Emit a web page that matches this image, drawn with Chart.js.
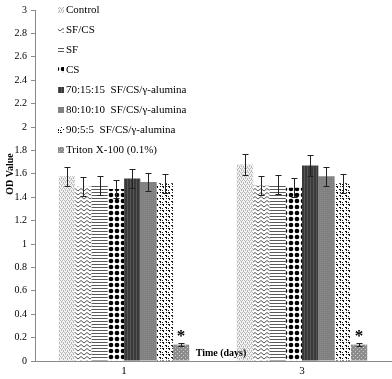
<!DOCTYPE html>
<html>
<head>
<meta charset="utf-8">
<script src="https://cdn.jsdelivr.net/npm/chart.js@4.4.1/dist/chart.umd.min.js"></script>
<style>
  html, body { margin: 0; padding: 0; background: #fff; }
  #wrap { width: 392px; height: 379px; }
</style>
</head>
<body>
<div id="wrap"><canvas id="c" width="392" height="379"></canvas></div>
<script>
// Data
const days = ['1', '3'];
const seriesLabels = [
  'Control',
  'SF/CS',
  'SF',
  'CS',
  '70:15:15  SF/CS/\u03b3-alumina',
  '80:10:10  SF/CS/\u03b3-alumina',
  '90:5:5  SF/CS/\u03b3-alumina',
  'Triton X-100 (0.1%)'
];
const control = [1.58, 1.68];
const sfcs = [1.49, 1.50];
const sf = [1.50, 1.51];
const cs = [1.47, 1.48];
const mix701515 = [1.56, 1.67];
const mix801010 = [1.53, 1.58];
const mix9055 = [1.52, 1.52];
const triton = [0.14, 0.14];

const controlErr = [0.08, 0.09];
const sfcsErr = [0.08, 0.08];
const sfErr = [0.08, 0.08];
const csErr = [0.08, 0.08];
const mix701515Err = [0.08, 0.09];
const mix801010Err = [0.08, 0.08];
const mix9055Err = [0.08, 0.08];
const tritonErr = [0.01, 0.01];

const yTicksMax = 3;
const yTickStep = 0.2;

const FONT = "'Liberation Serif', 'Times New Roman', serif";

// Small tiles used as fill patterns for the bars
function makePattern(w, h, draw) {
  const c = document.createElement('canvas');
  c.width = w; c.height = h;
  const g = c.getContext('2d');
  draw(g, w, h);
  return c.getContext('2d').createPattern(c, 'repeat');
}

const patterns = [
  // Control: fine light-grey checker
  makePattern(4, 4, (g) => {
    g.fillStyle = '#f2f2f2'; g.fillRect(0, 0, 4, 4);
    g.fillStyle = '#b8b8b8';
    g.fillRect(0, 0, 1, 1); g.fillRect(2, 0, 1, 1);
    g.fillRect(1, 2, 1, 1); g.fillRect(3, 2, 1, 1);
    g.fillRect(1, 1, 1, 1); g.fillRect(3, 3, 1, 1);
  }),
  // SF/CS: zigzag
  makePattern(6, 4, (g) => {
    g.fillStyle = '#ffffff'; g.fillRect(0, 0, 6, 4);
    g.strokeStyle = '#555'; g.lineWidth = 1;
    g.beginPath(); g.moveTo(0, 3); g.lineTo(3, 0.5); g.lineTo(6, 3); g.stroke();
  }),
  // SF: horizontal lines
  makePattern(4, 3, (g) => {
    g.fillStyle = '#ffffff'; g.fillRect(0, 0, 4, 3);
    g.fillStyle = '#5a5a5a'; g.fillRect(0, 0, 4, 1);
  }),
  // CS: black dots
  makePattern(6, 6, (g) => {
    g.fillStyle = '#ffffff'; g.fillRect(0, 0, 6, 6);
    g.fillStyle = '#000';
    g.beginPath(); g.arc(3, 3, 2.3, 0, Math.PI * 2); g.fill();
  }),
  // 70:15:15: dark grey with vertical stripes
  makePattern(3, 2, (g) => {
    g.fillStyle = '#3a3a3a'; g.fillRect(0, 0, 3, 2);
    g.fillStyle = '#555'; g.fillRect(1, 0, 1, 2);
  }),
  // 80:10:10: mid grey
  makePattern(2, 2, (g) => {
    g.fillStyle = '#808080'; g.fillRect(0, 0, 2, 2);
    g.fillStyle = '#8a8a8a'; g.fillRect(0, 0, 1, 1);
  }),
  // 90:5:5: black and white speckle
  makePattern(6, 6, (g) => {
    g.fillStyle = '#ffffff'; g.fillRect(0, 0, 6, 6);
    g.fillStyle = '#111';
    g.fillRect(0, 0, 2, 1); g.fillRect(1, 1, 1, 1);
    g.fillRect(3, 3, 2, 1); g.fillRect(4, 4, 1, 1);
    g.fillRect(4, 0, 1, 1); g.fillRect(0, 4, 1, 1);
  }),
  // Triton: grey with light dots
  makePattern(4, 4, (g) => {
    g.fillStyle = '#8c8c8c'; g.fillRect(0, 0, 4, 4);
    g.fillStyle = '#c8c8c8';
    g.fillRect(1, 1, 1, 1); g.fillRect(3, 3, 1, 1);
  })
];

const values = [control, sfcs, sf, cs, mix701515, mix801010, mix9055, triton];
const errors = [controlErr, sfcsErr, sfErr, csErr, mix701515Err, mix801010Err, mix9055Err, tritonErr];

const datasets = seriesLabels.map((label, i) => ({
  label,
  data: values[i],
  errors: errors[i],
  backgroundColor: patterns[i],
  borderWidth: 0,
  categoryPercentage: 0.733,
  barPercentage: 1.0
}));

// Error bars, star markers, in-plot legend and axis titles
const extras = {
  id: 'extras',
  afterDatasetsDraw(chart) {
    const ctx = chart.ctx;
    const y = chart.scales.y;
    ctx.save();
    ctx.strokeStyle = '#222';
    ctx.lineWidth = 1;
    chart.data.datasets.forEach((ds, di) => {
      chart.getDatasetMeta(di).data.forEach((bar, i) => {
        const v = ds.data[i], e = ds.errors[i];
        const yt = Math.round(y.getPixelForValue(v + e)) + 0.5;
        const yb = Math.round(y.getPixelForValue(v - e)) + 0.5;
        const x = Math.round(bar.x) + 0.5;
        ctx.beginPath();
        ctx.moveTo(x, yt); ctx.lineTo(x, yb);
        ctx.moveTo(x - 3, yt); ctx.lineTo(x + 3, yt);
        ctx.moveTo(x - 3, yb); ctx.lineTo(x + 3, yb);
        ctx.stroke();
      });
    });
    // significance stars above the Triton bars
    const last = chart.data.datasets.length - 1;
    ctx.fillStyle = '#000';
    ctx.font = `bold 17px ${FONT}`;
    ctx.textAlign = 'center';
    ctx.textBaseline = 'middle';
    chart.getDatasetMeta(last).data.forEach((bar, i) => {
      const v = chart.data.datasets[last].data[i];
      ctx.fillText('*', bar.x, y.getPixelForValue(v) - 8);
    });
    ctx.restore();
  },
  afterDraw(chart) {
    const ctx = chart.ctx;
    const area = chart.chartArea;
    ctx.save();
    // legend
    let ly = 10;
    ctx.font = `11px ${FONT}`;
    ctx.textBaseline = 'middle';
    ctx.textAlign = 'left';
    chart.data.datasets.forEach((ds) => {
      ctx.fillStyle = ds.backgroundColor;
      ctx.fillRect(58, ly - 3, 6, 6);
      ctx.fillStyle = '#000';
      ctx.fillText(ds.label, 66, ly);
      ly += 20;
    });
    // x axis title, sitting just above the axis line
    ctx.font = `bold 10px ${FONT}`;
    ctx.textAlign = 'center';
    ctx.fillText('Time (days)', 221, area.bottom - 8);
    // y axis title
    ctx.translate(10, 174);
    ctx.rotate(-Math.PI / 2);
    ctx.fillText('OD Value', 0, 0);
    ctx.restore();
  }
};

new Chart(document.getElementById('c'), {
  type: 'bar',
  data: { labels: days, datasets },
  options: {
    responsive: false,
    animation: false,
    layout: { padding: { top: 4, right: 1, left: 0, bottom: 0 } },
    plugins: {
      legend: { display: false },
      tooltip: { enabled: false }
    },
    scales: {
      x: {
        grid: { display: false },
        border: { color: '#8a8a8a', width: 1 },
        ticks: { color: '#000', font: { family: FONT, size: 11 }, padding: -4 },
        afterFit(s) { s.height = 18; }
      },
      y: {
        min: 0,
        max: yTicksMax,
        border: { color: '#8a8a8a', width: 1 },
        grid: { drawOnChartArea: false, tickLength: 4, color: '#8a8a8a' },
        ticks: {
          stepSize: yTickStep,
          color: '#000',
          padding: 4,
          font: { family: FONT, size: 10 },
          callback: (v) => +v.toFixed(1)
        },
        afterFit(s) { s.width = 35; }
      }
    }
  },
  plugins: [extras]
});
</script>
</body>
</html>
